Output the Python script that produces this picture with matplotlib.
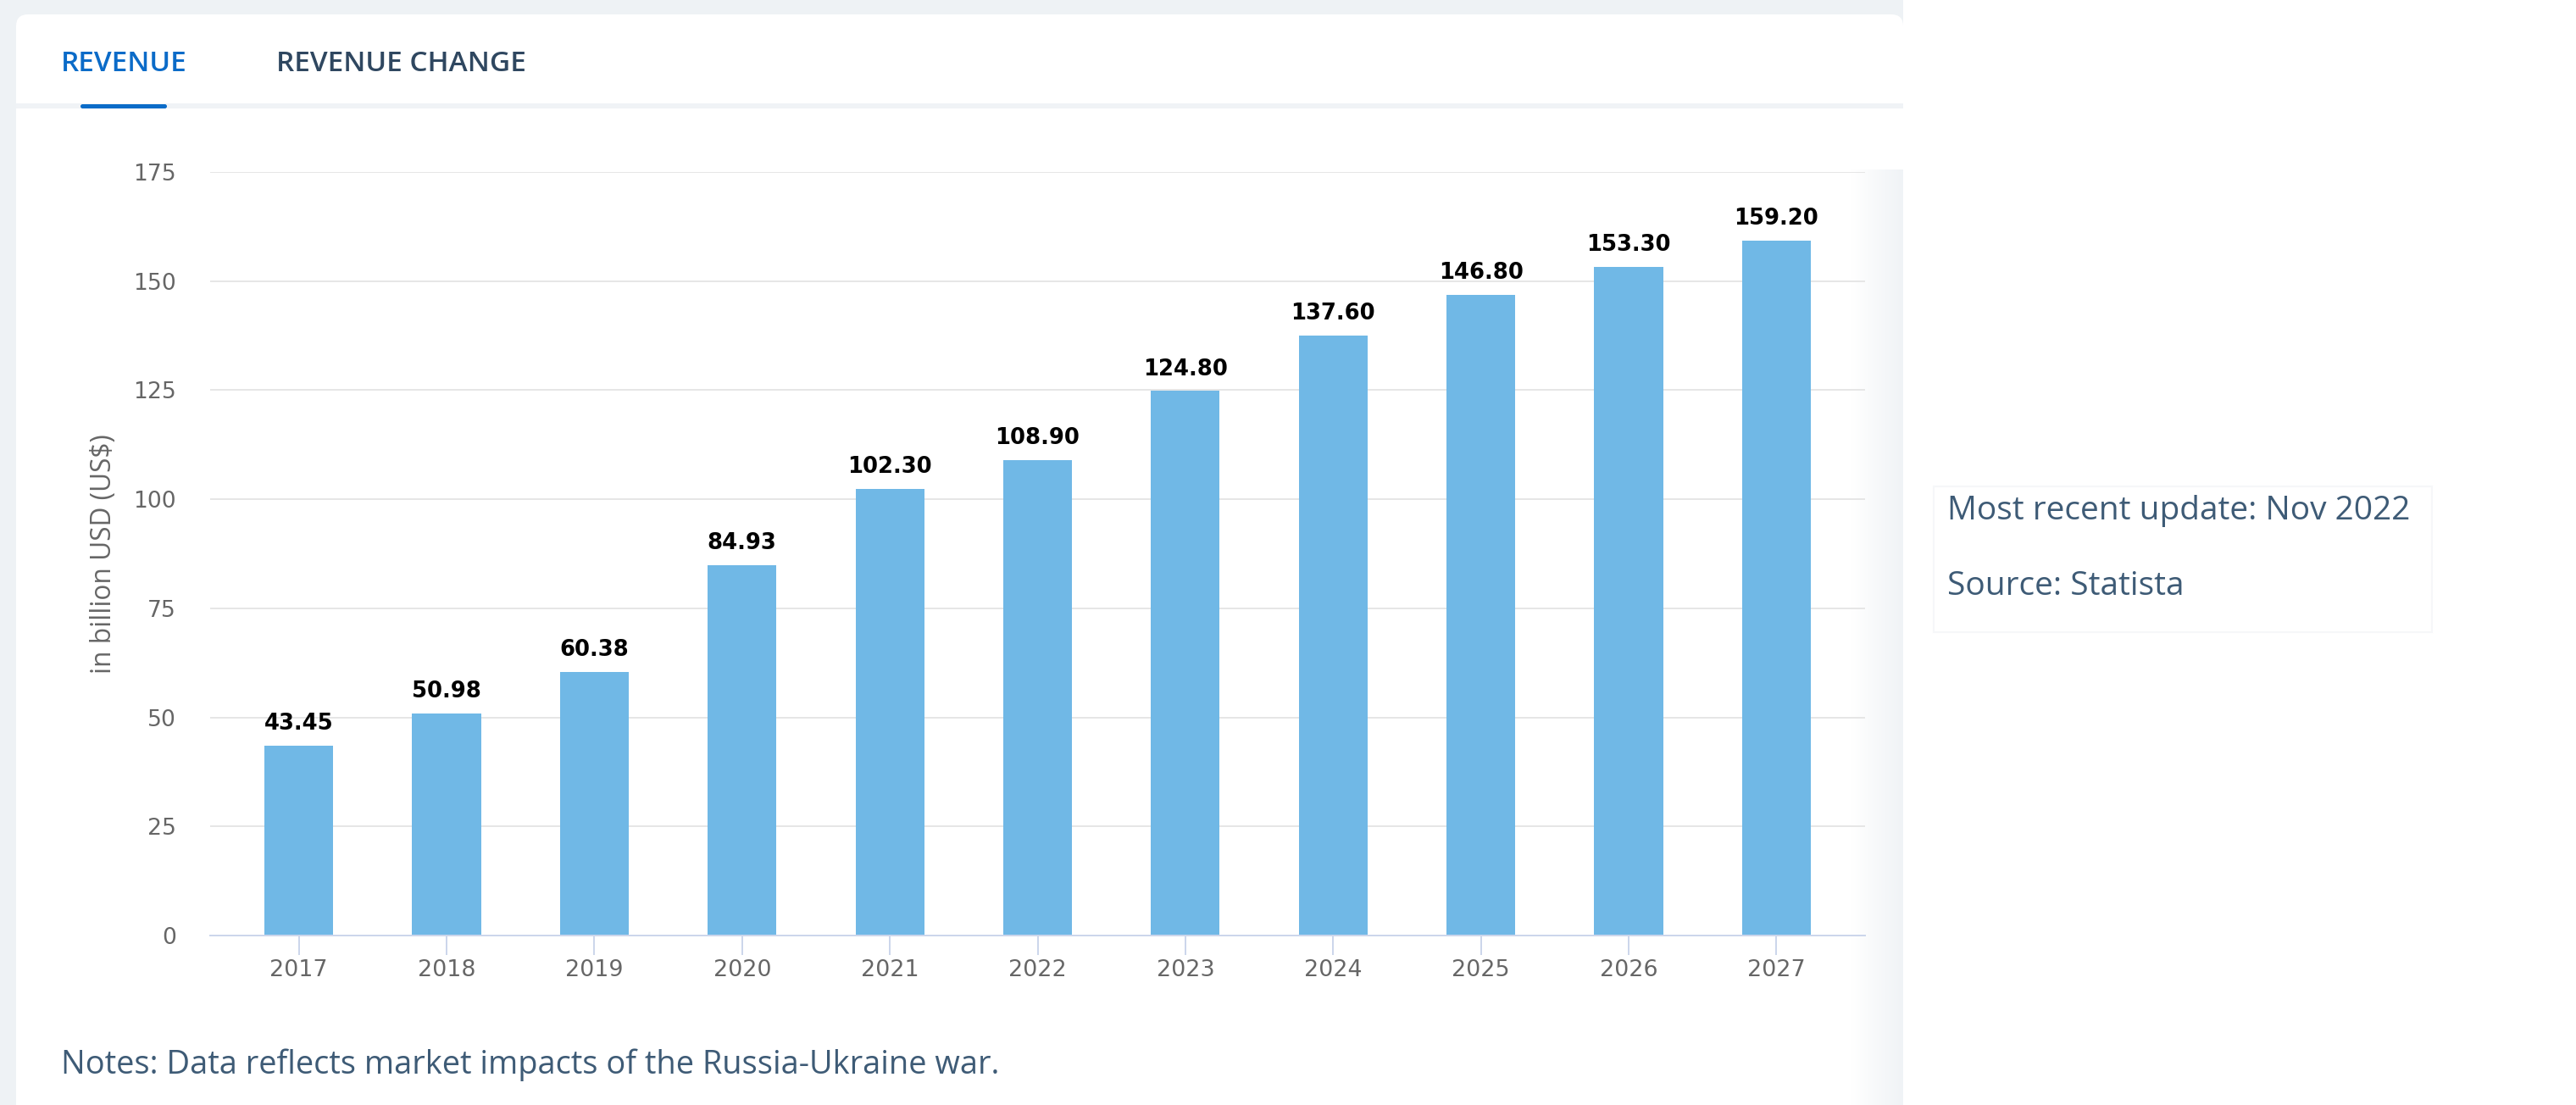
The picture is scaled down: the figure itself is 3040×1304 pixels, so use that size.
import matplotlib
matplotlib.use("Agg")
import matplotlib.pyplot as plt
import matplotlib.transforms as mtransforms
from matplotlib.patches import Rectangle, FancyBboxPatch
import numpy as np

# data
years = ['2017', '2018', '2019', '2020', '2021', '2022', '2023', '2024', '2025', '2026', '2027']
revenue = [43.45, 50.98, 60.38, 84.93, 102.30, 108.90, 124.80, 137.60, 146.80, 153.30, 159.20]
y_ticks = [0, 25, 50, 75, 100, 125, 150, 175]

W, H, DPI = 3040, 1304, 200
fig = plt.figure(figsize=(W / DPI, H / DPI), dpi=DPI, facecolor='white')

# pixel transform, y measured from top of the picture
px = mtransforms.Affine2D().scale(1.0, -1.0).translate(0, H).scale(1.0 / DPI) + fig.dpi_scale_trans

grey = '#eef2f5'
# page background around the card
fig.patches.append(Rectangle((0, 0), 2246, H, transform=px, facecolor=grey, edgecolor='none', zorder=-10))
# the card
fig.patches.append(FancyBboxPatch((19, 17), 2246 - 19, H + 40, boxstyle='round,pad=0,rounding_size=14',
                                  transform=px, facecolor='white', edgecolor='none', zorder=-9))
# soft shadow on the right side of the card
grad = np.linspace(0, 1, 64).reshape(1, -1)
bg = fig.add_axes([2184 / W, 0, 62 / W, 1 - 200 / H], zorder=-8)
bg.imshow(grad, aspect='auto', cmap=matplotlib.colors.LinearSegmentedColormap.from_list('s', ['#ffffff', '#f0f3f6']))
bg.axis('off')

# tabs
fig.patches.append(Rectangle((19, 122), 2246 - 19, 6, transform=px, facecolor='#f0f3f6', edgecolor='none', zorder=-7))
fig.patches.append(FancyBboxPatch((95, 123), 102, 5, boxstyle='round,pad=0,rounding_size=2.5', transform=px,
                                  facecolor='#0b6cc8', edgecolor='none', zorder=-6))
fig.text(72, 71, 'REVENUE', transform=px, family='Open Sans', fontsize=12, fontweight='semibold',
         color='#0b6bc8', ha='left', va='center_baseline')
fig.text(326, 71, 'REVENUE CHANGE', transform=px, family='Open Sans', fontsize=12, fontweight='semibold',
         color='#2f4760', ha='left', va='center_baseline')

# side info box
fig.patches.append(Rectangle((2282, 574), 588, 172, transform=px, facecolor='white', edgecolor='#f6f7f9',
                             linewidth=0.8, zorder=-7))
fig.text(2298, 599, 'Most recent update: Nov 2022', transform=px, family='Open Sans', fontsize=14,
         color='#3e5b76', ha='left', va='center_baseline')
fig.text(2298, 687, 'Source: Statista', transform=px, family='Open Sans', fontsize=14,
         color='#3e5b76', ha='left', va='center_baseline')

# notes
fig.text(72, 1252, 'Notes: Data reflects market impacts of the Russia-Ukraine war.', transform=px,
         family='Open Sans', fontsize=13.7, color='#3e5b76', ha='left', va='center_baseline')

# chart
ax = fig.add_axes([248 / W, 1 - 1104 / H, (2201 - 248) / W, (1104 - 203) / H])
ax.set_facecolor('none')
x = np.arange(len(years))
bars = ax.bar(x, revenue, width=0.465, color='#70b8e6', zorder=3)
for xi, v in zip(x, revenue):
    ax.annotate(f'{v:.2f}', (xi, v), xytext=(0, 6.8), textcoords='offset points', ha='center',
                va='baseline', fontsize=9.3, fontweight='bold', family='DejaVu Sans', color='black')

ax.set_xlim(-0.6, len(years) - 0.4)
ax.set_ylim(0, 175)
ax.set_yticks(y_ticks)
ax.set_xticks(x)
ax.set_xticklabels(years)
ax.grid(axis='y', color='#e6e6e6', linewidth=0.72, zorder=0)
for s in ['top', 'right', 'left']:
    ax.spines[s].set_visible(False)
ax.spines['bottom'].set_color('#ccd6eb')
ax.spines['bottom'].set_linewidth(0.72)
ax.spines['bottom'].set_zorder(4)
ax.tick_params(axis='x', length=8.3, width=0.72, color='#ccd6eb', pad=1.8, labelsize=9.7, labelcolor='#666666')
ax.tick_params(axis='y', length=0, pad=14.4, labelsize=9.6, labelcolor='#666666')
ax.text((122 - 248) / (2201 - 248), 0.5, 'in billion USD (US$)', transform=ax.transAxes, rotation=90,
        ha='center', va='center', family='Open Sans', fontsize=11.4, color='#666666')

fig.savefig('out.png', dpi=DPI, facecolor='white')
